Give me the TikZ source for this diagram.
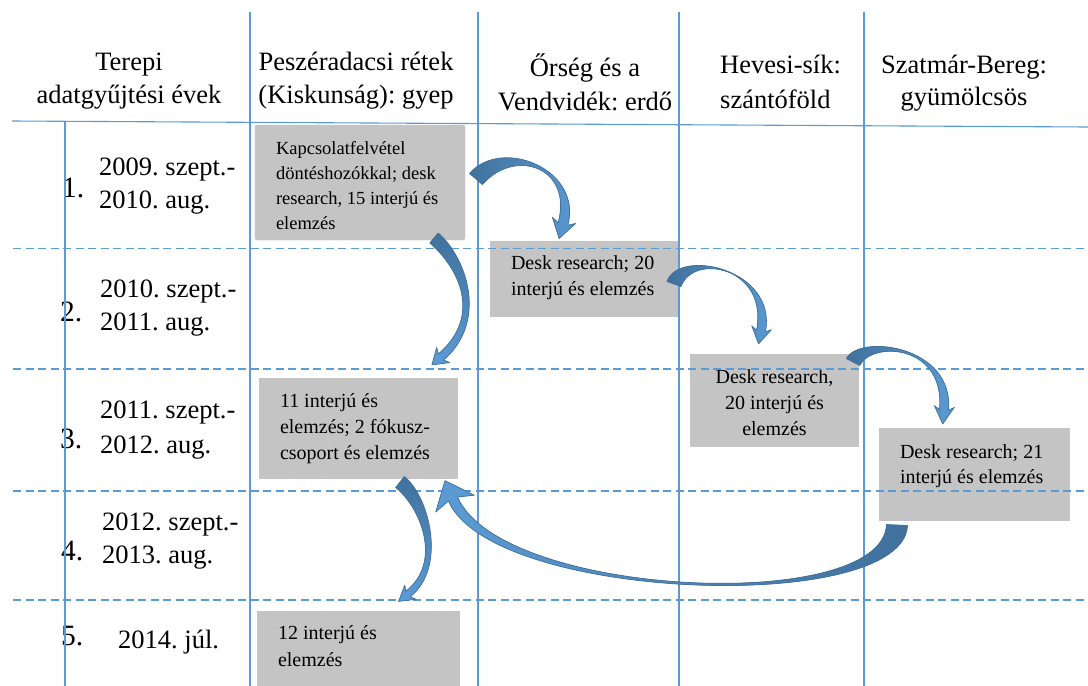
\documentclass[tikz,border=0pt]{standalone}
\usepackage{fontspec}
\setmainfont{Liberation Serif}
\usetikzlibrary{calc}
\frenchspacing
\definecolor{gridblue}{RGB}{91,155,213}
\definecolor{boxgray}{RGB}{196,196,196}
\definecolor{arrdark}{RGB}{65,113,156}
\definecolor{arrlight}{RGB}{91,155,213}
% curved block arrow: [shading]{p0}{p1}{p2}{p3}{tail half width}{end half width}{head half width}{head length}
\newcommand\blockarrow[9][]{%
  \coordinate (qp0) at (#2);
  \coordinate (qp1) at (#3);
  \coordinate (qp2) at (#4);
  \coordinate (qp3) at (#5);
  \coordinate (qa0) at ($(qp0)!#6!90:(qp1)$);
  \coordinate (qb0) at ($(qp0)!#6!-90:(qp1)$);
  \coordinate (qa3) at ($(qp3)!#7!-90:(qp2)$);
  \coordinate (qb3) at ($(qp3)!#7!90:(qp2)$);
  \coordinate (qa1) at ($(qp1)+(qa0)-(qp0)$);
  \coordinate (qb1) at ($(qp1)+(qb0)-(qp0)$);
  \coordinate (qa2) at ($(qp2)+(qa3)-(qp3)$);
  \coordinate (qb2) at ($(qp2)+(qb3)-(qp3)$);
  \coordinate (qtip) at ($(qp3)!-#9!(qp2)$);
  \coordinate (qq) at ($(qp3)!0.25*#9!(qp2)$);
  \coordinate (qha) at ($(qq)!#8!-90:(qp2)$);
  \coordinate (qhb) at ($(qq)!#8!90:(qp2)$);
  \path[arrowshape,#1] (qa0) .. controls (qa1) and (qa2) .. (qa3) -- (qha) -- (qtip) -- (qhb) -- (qb3) .. controls (qb2) and (qb1) .. (qb0) -- cycle;
}
\begin{document}
\begin{tikzpicture}[x=1pt,y=-1pt,
  gridsolid/.style={draw=gridblue, line width=1.1pt},
  griddash/.style={draw=gridblue, line width=1.1pt, dash pattern=on 8pt off 4.5pt},
  boxstyle/.style={fill=boxgray, inner sep=0pt, text height=14pt, align=flush left,
    font=\fontsize{20}{26.5}\selectfont},
  hdr/.style={inner sep=0pt, anchor=base, align=flush center, text width=230pt,
    font=\fontsize{26.5}{33}\selectfont},
  yearlbl/.style={inner sep=0pt, anchor=base west, align=flush left, text width=150pt,
    font=\fontsize{26.5}{33}\selectfont},
  numlbl/.style={inner sep=0pt, anchor=base west, font=\fontsize{29.5}{31}\selectfont},
  arrowshape/.style={draw=arrdark, line width=0.7pt, fill=arrdark, line join=round}
]
\useasboundingbox (0,0) rectangle (1088,686);
\fill[white] (0,0) rectangle (1088,686);

% header texts
\node[hdr] (h0) at (129,70) {Terepi\\adatgyűjtési évek};
\node[hdr] (h1) at (356,70) {Peszéradacsi rétek\\(Kiskunság): gyep};
\node[hdr, font=\fontsize{26.5}{34}\selectfont] (h2) at (585,76) {Őrség és a\\Vendvidék: erdő};
\node[hdr, anchor=base west, align=flush left, text width=150pt, font=\fontsize{26.5}{35}\selectfont] (h3) at (720,73) {Hevesi-sík:\\szántóföld};
\node[hdr, font=\fontsize{26.5}{32}\selectfont] (h4) at (964,73) {Szatmár-Bereg:\\gyümölcsös};

% row labels
\node[numlbl] (n1) at (62,197) {1.};
\node[yearlbl] (y1) at (99,175) {2009. szept.-\\2010. aug.};
\node[numlbl] (n2) at (60,321) {2.};
\node[yearlbl] (y2) at (100,297) {2010. szept.-\\2011. aug.};
\node[numlbl] (n3) at (60,448) {3.};
\node[yearlbl, font=\fontsize{26.5}{35}\selectfont] (y3) at (100,418) {2011. szept.-\\2012. aug.};
\node[numlbl] (n4) at (61,560) {4.};
\node[yearlbl] (y4) at (102,530) {2012. szept.-\\2013. aug.};
\node[numlbl] (n5) at (61,645) {5.};
\node[yearlbl] (y5) at (118,648) {2014. júl.};

% boxes
\node[boxstyle, rounded corners=2pt, draw=black!22, minimum width=210pt, minimum height=115pt,
  text width=168pt, text depth=71pt, font=\fontsize{18.5}{25}\selectfont] (box1) at (360,182.5)
  {Kapcsolatfelvétel\\döntéshozókkal; desk\\research, 15 interjú és\\elemzés};
\node[boxstyle, minimum width=189pt, minimum height=76pt, text width=147pt, text depth=34pt] (box2) at (584.5,279)
  {Desk research; 20\\interjú és elemzés};
\node[boxstyle, align=flush center, minimum width=169pt, minimum height=93pt, text width=150pt, text depth=49pt,
  font=\fontsize{20}{26}\selectfont] (box3) at (774.5,400.5)
  {Desk research,\\20 interjú és\\elemzés};
\node[boxstyle, minimum width=191pt, minimum height=93pt, text width=149pt, text depth=47pt,
  font=\fontsize{20}{25}\selectfont] (box4) at (974.5,474.5)
  {Desk research; 21\\interjú és elemzés};
\node[boxstyle, minimum width=199pt, minimum height=101pt, text width=157pt, text depth=57pt,
  font=\fontsize{20}{26}\selectfont] (box5) at (358.5,428.5)
  {11 interjú és\\elemzés; 2 fókusz-\\csoport és elemzés};
\node[boxstyle, minimum width=203pt, minimum height=86pt, text width=161pt, text depth=44pt,
  font=\fontsize{20}{27}\selectfont] (box6) at (358.5,654)
  {12 interjú és\\elemzés};

% grid lines
\draw[gridsolid] (250,12) -- (250,686);
\draw[gridsolid] (478,12) -- (478,686);
\draw[gridsolid] (679,12) -- (679,686);
\draw[gridsolid] (864,12) -- (864,686);
\draw[gridsolid] (65,121) -- (65,686);
\draw[gridsolid] (12,121) -- (1088,127);
\draw[griddash] (13,248.5) -- (1088,248.5);
\draw[griddash] (13,369) -- (1088,369);
\draw[griddash] (13,491) -- (1088,491);
\draw[griddash] (13,600) -- (1088,600);

% curved block arrows
\blockarrow[left color=arrdark, right color=arrlight]{476,179}{508,142}{578,168}{563,224}{8.5pt}{5pt}{12pt}{15pt}
\blockarrow[top color=arrdark, bottom color=arrlight]{434,238}{462,262}{486,318}{441,357}{6.5pt}{4pt}{10pt}{12pt}
\blockarrow[left color=arrdark, right color=arrlight]{674,284}{686,250}{773,268}{761,331}{7.5pt}{4.5pt}{10pt}{13pt}
\blockarrow[left color=arrdark, right color=arrlight]{853,362}{866,337}{950,345}{944,410}{7.5pt}{4.5pt}{10pt}{14pt}
\blockarrow[top color=arrdark, bottom color=arrlight]{400,482}{425,502}{445,565}{408,594}{7pt}{3.5pt}{9pt}{12pt}
\blockarrow[left color=arrlight, right color=arrdark]{897,525}{893,615}{497,600}{453,499}{10.5pt}{5pt}{21pt}{20pt}
\end{tikzpicture}
\end{document}
